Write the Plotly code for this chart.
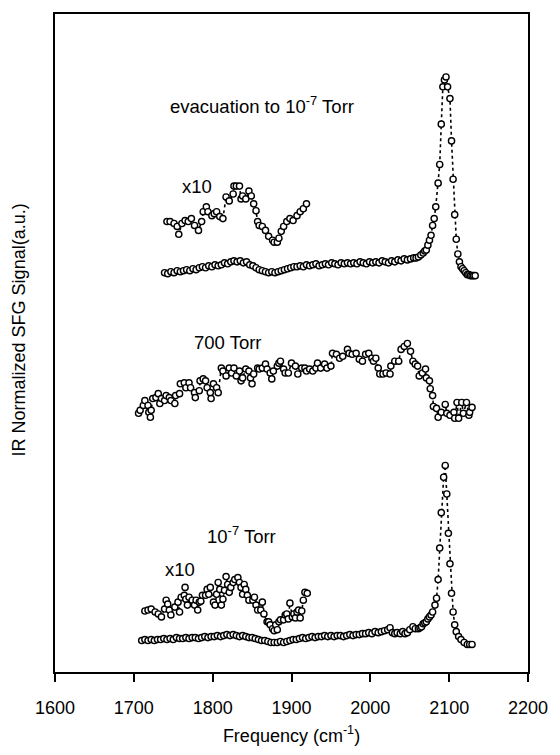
import plotly.graph_objects as go

# ---- data (frequency in cm^-1, signal in arbitrary units) ----
evac_x = [1739,1743,1747,1751,1755,1759,1763,1767,1771,1775,1779,1783,1787,1791,1795,1799,1803,1807,1811,1815,
          1819,1823,1827,1831,1835,1839,1843,1847,1851,1855,1859,1863,1867,1871,1875,1879,1883,1887,1891,1895,
          1899,1903,1907,1911,1915,1919,1923,1927,1931,1935,1939,1943,1947,1951,1955,1959,1963,1967,1971,1975,
          1979,1983,1987,1991,1995,1999,2003,2007,2011,2015,2019,2023,2027,2031,2035,2039,2043,2047,2051,2055,
          2058,2061,2064,2067,2069,2071,2073,2075,2077,2079,2081,2083,2086,2088,2090,2092,2094,2096,2098,2101,
          2103,2105,2107,2109,2111,2113,2115,2117,2119,2121,2123,2125,2127,2129,2131,2133]
evac_y = [406,405,407,406,408,407,408,409,408,410,409,411,412,411,413,412,414,413,414,416,
          415,417,418,417,418,416,417,414,413,411,409,408,407,406,407,406,407,408,409,410,
          411,412,412,413,412,414,413,414,415,413,414,415,414,416,415,414,416,415,416,415,
          416,415,417,416,415,417,416,417,416,418,417,416,418,417,419,418,420,419,420,421,
          421,422,424,426,428,429,434,439,444,454,461,473,497,516,557,595,602,605,595,583,
          540,501,465,440,425,417,412,410,408,406,404,404,403,403,403,403]

evac10_x = [1742,1746,1751,1755,1757,1761,1765,1769,1773,1777,1782,1786,1788,1792,1794,1799,1802,1805,1809,1813,
            1817,1821,1826,1827,1830,1834,1836,1838,1842,1846,1849,1852,1855,1857,1859,1863,1867,1871,1876,1878,
            1882,1884,1887,1890,1894,1898,1902,1907,1911,1915,1919]
evac10_y = [458,458,456,453,445,456,459,458,461,454,449,458,468,473,468,464,466,468,463,461,
            483,479,486,494,494,494,481,484,481,489,484,476,469,458,454,453,449,443,439,437,
            437,441,448,453,458,461,459,464,468,471,476]

torr700_x = [1706,1708,1712,1714,1718,1719,1721,1722,1724,1728,1731,1733,1735,1739,1741,1745,1747,1752,1753,1758,
             1759,1764,1766,1770,1772,1777,1778,1783,1784,1788,1791,1793,1797,1798,1801,1805,1807,1811,1813,1817,
             1821,1824,1827,1830,1834,1836,1838,1842,1846,1848,1850,1852,1857,1859,1863,1867,1869,1873,1875,1877,
             1882,1884,1886,1890,1892,1896,1900,1905,1908,1913,1917,1919,1923,1927,1931,1933,1937,1942,1945,1950,
             1952,1957,1961,1965,1971,1973,1977,1982,1986,1990,1994,1998,2002,2004,2007,2010,2012,2016,2020,2025,
             2026,2031,2036,2039,2043,2047,2051,2054,2057,2060,2062,2066,2070,2071,2075,2076,2079,2080,2084,2086,
             2090,2095,2097,2101,2106,2107,2110,2112,2116,2118,2122,2125,2126,2129]
torr700_y = [263,266,271,276,271,264,259,266,278,279,283,273,278,276,281,279,276,273,281,283,
             293,294,289,294,289,284,279,286,296,298,296,289,284,278,293,289,284,309,306,301,
             309,304,309,301,306,296,299,308,306,299,293,303,309,308,309,313,308,304,298,306,
             311,314,316,308,304,304,314,311,303,309,309,306,308,306,309,314,309,313,309,311,
             324,323,319,321,328,324,323,324,318,316,323,324,319,316,319,309,303,303,304,303,
             311,316,316,328,331,334,326,316,313,311,301,304,308,299,296,288,281,270,268,259,
             264,272,263,261,264,258,274,258,274,263,274,261,264,269]

base7_x = [1710,1714,1718,1722,1726,1730,1734,1738,1742,1746,1750,1754,1758,1762,1766,1770,1774,1778,1782,1786,
           1790,1794,1798,1802,1806,1810,1814,1818,1822,1826,1830,1834,1838,1842,1846,1850,1854,1858,1862,1866,
           1870,1874,1878,1882,1886,1890,1894,1898,1902,1906,1910,1914,1918,1922,1926,1930,1934,1938,1942,1946,
           1950,1954,1958,1962,1966,1970,1974,1978,1982,1986,1990,1994,1998,2002,2006,2010,2014,2018,2022,2025,
           2028,2031,2034,2038,2041,2044,2047,2050,2054,2057,2061,2063,2065,2067,2069,2071,2073,2075,2077,2079,
           2082,2084,2086,2088,2090,2093,2095,2097,2099,2101,2103,2105,2107,2109,2112,2115,2119,2123,2126,2129]
base7_y = [32,33,32,33,32,33,33,34,33,34,33,35,34,34,35,34,35,35,34,35,
           36,35,36,36,37,36,37,38,37,38,37,36,37,36,35,35,34,33,32,32,
           31,30,30,30,31,30,31,32,33,33,34,35,34,35,36,35,36,36,37,36,
           37,36,37,37,36,37,38,37,38,38,39,39,40,39,41,40,41,42,43,45,
           40,39,40,39,41,39,40,43,46,44,44,45,46,49,50,51,54,56,58,61,
           68,75,94,126,162,198,210,181,141,110,80,61,48,41,36,33,30,28,28,28]

base7x10_x = [1714,1718,1722,1727,1731,1735,1739,1741,1743,1745,1747,1752,1756,1758,1760,1764,1765,1766,1768,1770,
              1774,1777,1779,1781,1783,1785,1787,1791,1793,1795,1797,1801,1803,1805,1807,1809,1811,1813,1815,1817,
              1819,1821,1823,1826,1828,1832,1834,1836,1838,1840,1842,1844,1846,1851,1853,1855,1857,1861,1863,1865,
              1869,1871,1873,1876,1878,1880,1882,1884,1886,1890,1892,1894,1896,1898,1901,1903,1905,1907,1909,1911,
              1913,1915,1917,1920]
base7x10_y = [62,63,64,61,59,56,64,73,69,63,58,66,71,61,76,78,86,74,68,76,
              73,68,73,63,71,72,78,78,84,79,86,71,68,79,91,84,68,74,83,97,
              89,81,86,91,94,96,91,86,79,89,84,78,73,73,76,68,63,63,71,59,
              51,51,48,44,42,48,43,51,53,53,58,59,54,70,56,59,55,61,63,55,
              62,73,81,80]

series = [(evac_x, evac_y), (evac10_x, evac10_y), (torr700_x, torr700_y),
          (base7_x, base7_y), (base7x10_x, base7x10_y)]

FONT = "Liberation Sans, Arial, sans-serif"

fig = go.Figure()
for xs, ys in series:
    fig.add_trace(go.Scatter(
        x=xs, y=ys, mode="lines+markers",
        line=dict(color="black", width=1.6, dash="dot"),
        marker=dict(symbol="circle", size=6.2, color="white",
                    line=dict(color="black", width=1.4)),
        showlegend=False, hoverinfo="x+y"))

labels = [
    (1743, 576, "evacuation to 10<sup>-7</sup> Torr"),
    (1759, 494, "x10"),
    (1774, 335, "700 Torr"),
    (1790, 139, "10<sup>-7</sup> Torr"),
    (1737, 104, "x10"),
]
for lx, ly, txt in labels:
    fig.add_annotation(x=lx, y=ly, xref="x", yref="y", text=txt, showarrow=False,
                       xanchor="left", yanchor="middle",
                       font=dict(family=FONT, size=18.5, color="black"))

fig.add_annotation(x=-0.077, y=0.52, xref="paper", yref="paper",
                   text="IR Normalized SFG Signal(a.u.)", textangle=-90, showarrow=False,
                   xanchor="center", yanchor="middle",
                   font=dict(family=FONT, size=18, color="black"))

fig.update_layout(
    width=560, height=755,
    margin=dict(l=55, r=23, t=12, b=74),
    paper_bgcolor="white", plot_bgcolor="white",
    font=dict(family=FONT, size=18, color="black"),
    xaxis=dict(range=[1600, 2200], tickvals=[1600, 1700, 1800, 1900, 2000, 2100, 2200],
               ticks="outside", ticklen=8, tickwidth=1.5, tickcolor="black",
               showline=True, linecolor="black", linewidth=1.5, mirror=True,
               showgrid=False, zeroline=False, ticklabelstandoff=11,
               tickfont=dict(family=FONT, size=18),
               title=dict(text="Frequency (cm<sup>-1</sup>)", standoff=12,
                          font=dict(family=FONT, size=18))),
    yaxis=dict(range=[0, 669], showticklabels=False, ticks="",
               showline=True, linecolor="black", linewidth=1.5, mirror=True,
               showgrid=False, zeroline=False),
)

fig.write_html("out.html", config={"displayModeBar": False},
               post_script="document.body.style.margin='0px';document.body.style.overflow='hidden';")
